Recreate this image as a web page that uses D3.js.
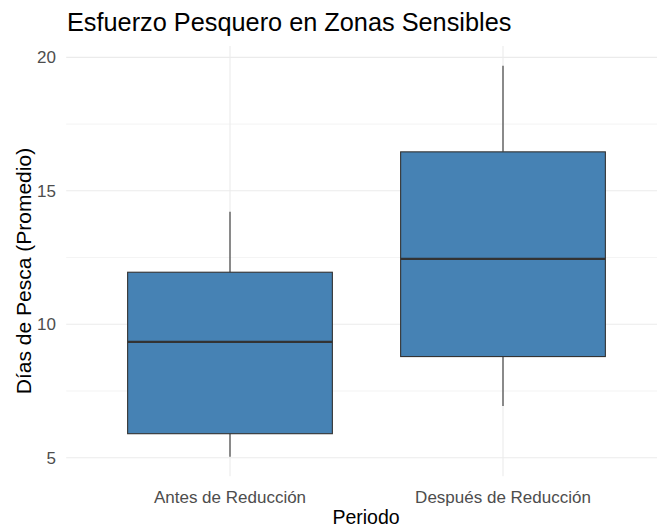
<!DOCTYPE html>
<html><head><meta charset="utf-8">
<script src="https://cdn.jsdelivr.net/npm/d3@7"></script>
<style>body{margin:0;background:#fff}svg{display:block;font-family:"Liberation Sans",Arial,sans-serif}</style>
</head><body><svg id="c" width="657" height="528"></svg>
<script>
const categories = ["Antes de Reducción", "Después de Reducción"];
const whiskerLow = [5.04, 6.94];
const q1 = [5.9, 8.79];
const median = [9.34, 12.45];
const q3 = [11.95, 16.46];
const whiskerHigh = [14.22, 19.69];
const yTicks = [5, 10, 15, 20];
const yMinor = [7.5, 12.5, 17.5];
const title = "Esfuerzo Pesquero en Zonas Sensibles";
const xTitle = "Periodo";
const yTitle = "Días de Pesca (Promedio)";

const svg = d3.select("#c");
const W = 657, H = 528;
const x = d3.scaleLinear().domain([0.4, 2.6]).range([66.2, 666.8]);
const yMin = d3.min(whiskerLow), yMax = d3.max(whiskerHigh), pad = (yMax - yMin) * 0.05;
const y = d3.scaleLinear().domain([yMin - pad, yMax + pad]).range([476.2, 46.1]);
const left = x(0.4), right = W;

const g = svg.append("g");
g.selectAll(".mn").data(yMinor).join("line")
  .attr("x1", left).attr("x2", right).attr("y1", d => y(d)).attr("y2", d => y(d))
  .attr("stroke", "#EBEBEB").attr("stroke-width", 0.6);
g.selectAll(".mj").data(yTicks).join("line")
  .attr("x1", left).attr("x2", right).attr("y1", d => y(d)).attr("y2", d => y(d))
  .attr("stroke", "#EBEBEB").attr("stroke-width", 1.1);
g.selectAll(".vx").data(categories).join("line")
  .attr("x1", (d, i) => x(i + 1)).attr("x2", (d, i) => x(i + 1))
  .attr("y1", y.range()[0]).attr("y2", y.range()[1])
  .attr("stroke", "#EBEBEB").attr("stroke-width", 1.1);

const bw = 0.75;
const boxes = g.selectAll(".box").data(categories).join("g");
boxes.append("line")
  .attr("x1", (d, i) => x(i + 1)).attr("x2", (d, i) => x(i + 1))
  .attr("y1", (d, i) => y(q3[i])).attr("y2", (d, i) => y(whiskerHigh[i]))
  .attr("stroke", "#333333").attr("stroke-width", 1.1);
boxes.append("line")
  .attr("x1", (d, i) => x(i + 1)).attr("x2", (d, i) => x(i + 1))
  .attr("y1", (d, i) => y(q1[i])).attr("y2", (d, i) => y(whiskerLow[i]))
  .attr("stroke", "#333333").attr("stroke-width", 1.1);
boxes.append("rect")
  .attr("x", (d, i) => x(i + 1 - bw / 2)).attr("width", (d, i) => x(i + 1 + bw / 2) - x(i + 1 - bw / 2))
  .attr("y", (d, i) => y(q3[i])).attr("height", (d, i) => y(q1[i]) - y(q3[i]))
  .attr("fill", "#4682B4").attr("stroke", "#333333").attr("stroke-width", 1.1);
boxes.append("line")
  .attr("x1", (d, i) => x(i + 1 - bw / 2)).attr("x2", (d, i) => x(i + 1 + bw / 2))
  .attr("y1", (d, i) => y(median[i])).attr("y2", (d, i) => y(median[i]))
  .attr("stroke", "#333333").attr("stroke-width", 2.2);

g.selectAll(".yt").data(yTicks).join("text")
  .attr("x", 56).attr("y", d => y(d)).attr("dy", "0.36em")
  .attr("text-anchor", "end").attr("fill", "#4D4D4D").attr("font-size", 17)
  .text(d => d);
g.selectAll(".xt").data(categories).join("text")
  .attr("x", (d, i) => x(i + 1)).attr("y", 503)
  .attr("text-anchor", "middle").attr("fill", "#4D4D4D").attr("font-size", 17)
  .text(d => d);
svg.append("text").attr("x", 366).attr("y", 524)
  .attr("text-anchor", "middle").attr("fill", "#000").attr("font-size", 19.5).text(xTitle);
svg.append("text").attr("transform", `translate(31,271) rotate(-90)`)
  .attr("text-anchor", "middle").attr("fill", "#000").attr("font-size", 21).text(yTitle);
svg.append("text").attr("x", 67).attr("y", 31)
  .attr("fill", "#000").attr("font-size", 25.3).text(title);
</script></body></html>
